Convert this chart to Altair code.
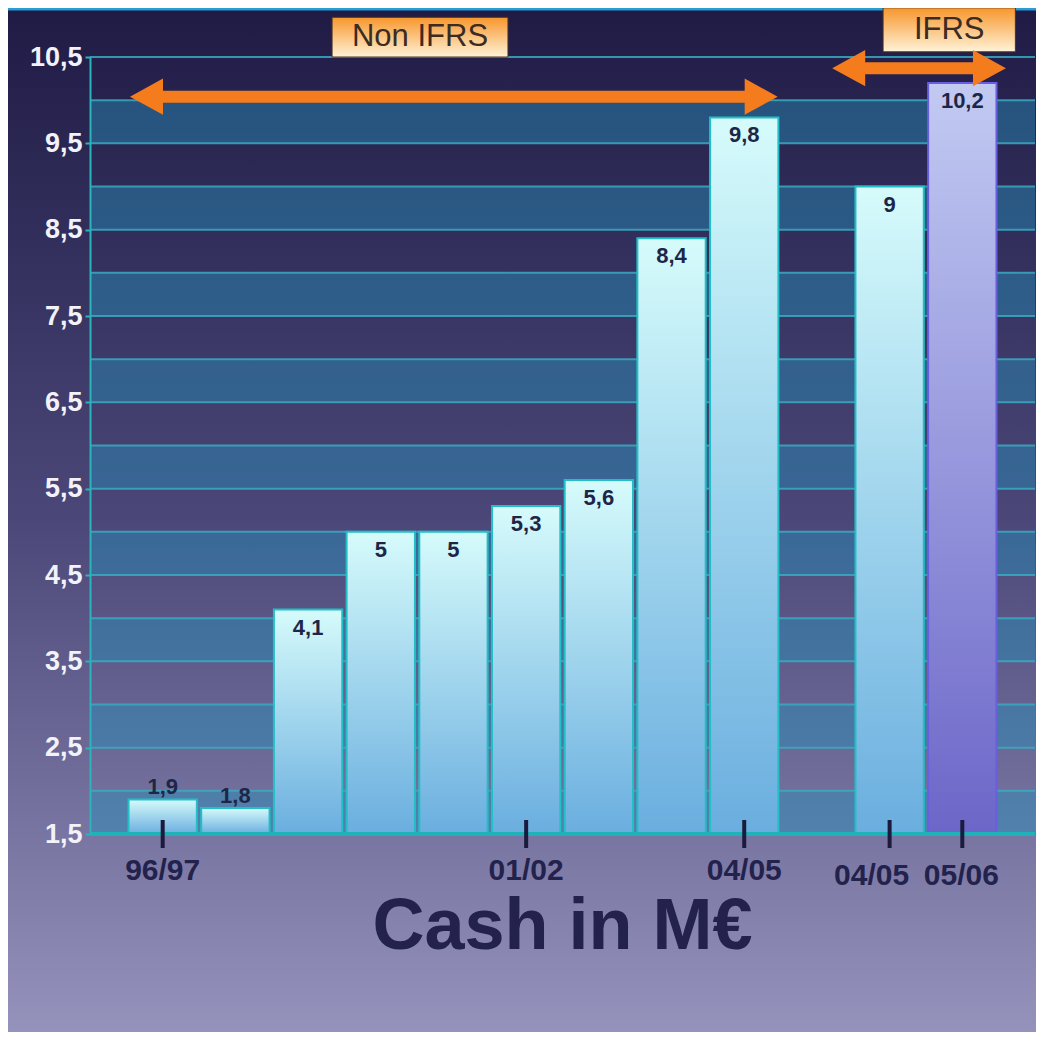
import altair as alt
import pandas as pd

# ---------------- data ----------------
periods = ["96/97", "97/98", "98/99", "99/00", "00/01", "01/02", "02/03", "03/04", "04/05", "04/05", "05/06"]
values = [1.9, 1.8, 4.1, 5.0, 5.0, 5.3, 5.6, 8.4, 9.8, 9.0, 10.2]
slots = [0, 1, 2, 3, 4, 5, 6, 7, 8, 10, 11]
standard = ["Non IFRS"] * 9 + ["IFRS"] * 2
tick_labels = ["96/97", "", "", "", "", "01/02", "", "", "04/05", "04/05", "05/06"]
shade = ["cyan"] * 10 + ["purple"]

y_ticks = [1.5, 2.5, 3.5, 4.5, 5.5, 6.5, 7.5, 8.5, 9.5, 10.5]
grid_vals = [1.5, 2.0, 2.5, 3.0, 3.5, 4.0, 4.5, 5.0, 5.5, 6.0, 6.5, 7.0, 7.5, 8.0, 8.5, 9.0, 9.5, 10.0, 10.5]
band_starts = [1.5, 2.5, 3.5, 4.5, 5.5, 6.5, 7.5, 8.5, 9.5]

# annotations (in data coordinates)
ann_names = ["Non IFRS", "IFRS"]
arrow_x_start = [-0.45, 9.21]
arrow_x_end = [8.46, 11.60]
arrow_y = [10.04, 10.37]
box_x_start = [2.33, 9.91]
box_x_end = [4.75, 11.73]
box_y_low = [10.5, 10.56]
box_y_high = [10.96, 11.07]

title_text = "Cash in M€"

# ---------------- layout ----------------
W, H = 945, 777
PL, PT, PR, PB = 82, 49, 1, 198
FONT = "Liberation Sans"
NAVY = "#22224c"
ORANGE = "#f47c1c"

df = pd.DataFrame({
    "period": periods, "value": values, "slot": slots,
    "standard": standard, "tick": tick_labels, "shade": shade,
})
bands = pd.DataFrame({"start": band_starts})
grid = pd.DataFrame({"v": grid_vals})
ann = pd.DataFrame({
    "name": ann_names, "xs": arrow_x_start, "xe": arrow_x_end, "y": arrow_y,
    "bx1": box_x_start, "bx2": box_x_end, "by1": box_y_low, "by2": box_y_high,
})
one = pd.DataFrame({"a": [0]})

xs = alt.Scale(domain=[-1, 12], nice=False, zero=False)
ys = alt.Scale(domain=[1.5, 10.5], nice=False, zero=False)

bg_grad = alt.Gradient(
    gradient="linear", x1=0, x2=0, y1=0, y2=1,
    stops=[alt.GradientStop(offset=0, color="#1f1b45"),
           alt.GradientStop(offset=0.5, color="#4b4778"),
           alt.GradientStop(offset=1, color="#9592bc")],
)
cyan_grad = alt.Gradient(
    gradient="linear", x1=0, x2=0, y1=0, y2=1,
    stops=[alt.GradientStop(offset=0, color="#d6fbfb"),
           alt.GradientStop(offset=1, color="#6aaedf")],
)
purple_grad = alt.Gradient(
    gradient="linear", x1=0, x2=0, y1=0, y2=1,
    stops=[alt.GradientStop(offset=0, color="#c2caf2"),
           alt.GradientStop(offset=1, color="#6c66c8")],
)
box_grad = alt.Gradient(
    gradient="linear", x1=0, x2=0, y1=0, y2=1,
    stops=[alt.GradientStop(offset=0, color="#f7962c"),
           alt.GradientStop(offset=1, color="#fff3d8")],
)

yaxis = alt.Axis(
    values=y_ticks, labelExpr="replace(format(datum.value, '.1f'), '.', ',')",
    domain=True, domainColor="#2ab4bc", domainWidth=2,
    ticks=True, tickColor="#2ab4bc", tickSize=5, tickWidth=2,
    grid=False, labelColor="#f2f2fa", labelFont=FONT, labelFontSize=27,
    labelFontWeight="bold", labelPadding=3, title=None, zindex=1,
)

background = alt.Chart(one).mark_rect(fill=bg_grad).encode(
    x=alt.value(-PL), x2=alt.value(W + PR), y=alt.value(-PT), y2=alt.value(H + PB)
)
top_line = alt.Chart(one).mark_rule(color="#2a9cd6", strokeWidth=3).encode(
    x=alt.value(-PL), x2=alt.value(W + PR), y=alt.value(-PT + 1)
)

band_layer = alt.Chart(bands).transform_calculate(end="datum.start + 0.5").mark_rect(
    fill="#2590bb", opacity=0.45
).encode(
    x=alt.value(0), x2=alt.value(W),
    y=alt.Y("start:Q", scale=ys, axis=yaxis), y2="end:Q",
)

grid_layer = alt.Chart(grid).mark_rule(color="#3aaac0", strokeWidth=2, opacity=0.85).encode(
    x=alt.value(0), x2=alt.value(W), y=alt.Y("v:Q", scale=ys, axis=yaxis)
)

bar_base = alt.Chart(df).transform_calculate(
    x1="datum.slot - 0.47", x2="datum.slot + 0.47",
    lab="replace(format(datum.value, '.1~f'), '.', ',')",
)

bars_cyan = bar_base.transform_filter("datum.shade == 'cyan'").mark_rect(
    fill=cyan_grad, stroke="#22bfc6", strokeWidth=2
).encode(
    x=alt.X("x1:Q", scale=xs, axis=None), x2="x2:Q",
    y=alt.Y("value:Q", scale=ys, axis=yaxis), y2=alt.datum(1.5),
)
bars_purple = bar_base.transform_filter("datum.shade == 'purple'").mark_rect(
    fill=purple_grad, stroke="#6a5ee0", strokeWidth=2
).encode(
    x=alt.X("x1:Q", scale=xs, axis=None), x2="x2:Q",
    y=alt.Y("value:Q", scale=ys, axis=yaxis), y2=alt.datum(1.5),
)

baseline = alt.Chart(one).mark_rule(color="#1fb2b8", strokeWidth=4).encode(
    x=alt.value(0), x2=alt.value(W), y=alt.datum(1.5, scale=ys, axis=yaxis)
)

lab_inside = bar_base.transform_filter("datum.value >= 2.5").mark_text(
    baseline="alphabetic", dy=25, fontSize=22, fontWeight="bold", font=FONT, color="#1e2647"
).encode(x=alt.X("slot:Q", scale=xs, axis=None), y=alt.Y("value:Q", scale=ys, axis=yaxis), text="lab:N")
lab_above = bar_base.transform_filter("datum.value < 2.5").mark_text(
    baseline="alphabetic", dy=-5, fontSize=22, fontWeight="bold", font=FONT, color="#1e2647"
).encode(x=alt.X("slot:Q", scale=xs, axis=None), y=alt.Y("value:Q", scale=ys, axis=yaxis), text="lab:N")

ticks = alt.Chart(df).transform_filter("datum.tick != ''").mark_rule(
    color="#1b1b3d", strokeWidth=4
).encode(x=alt.X("slot:Q", scale=xs, axis=None), y=alt.value(H - 14), y2=alt.value(H + 14))

xlab_non = alt.Chart(df).transform_filter("datum.tick != '' && datum.standard == 'Non IFRS'").mark_text(
    baseline="alphabetic", fontSize=30, fontWeight="bold", font=FONT, color=NAVY
).encode(x=alt.X("slot:Q", scale=xs, axis=None), y=alt.value(H + 46), text="tick:N")
xlab_ifrs_a = alt.Chart(df).transform_filter("datum.standard == 'IFRS' && datum.shade == 'cyan'").mark_text(
    baseline="alphabetic", fontSize=30, fontWeight="bold", font=FONT, color=NAVY, dx=-18
).encode(x=alt.X("slot:Q", scale=xs, axis=None), y=alt.value(H + 51), text="tick:N")
xlab_ifrs_b = alt.Chart(df).transform_filter("datum.standard == 'IFRS' && datum.shade == 'purple'").mark_text(
    baseline="alphabetic", fontSize=30, fontWeight="bold", font=FONT, color=NAVY, dx=-1
).encode(x=alt.X("slot:Q", scale=xs, axis=None), y=alt.value(H + 51), text="tick:N")

title_layer = alt.Chart(one).transform_calculate(t=f"'{title_text}'").mark_text(
    baseline="alphabetic", align="center", fontSize=72, fontWeight="bold", font=FONT, color=NAVY
).encode(x=alt.value(W / 2), y=alt.value(H + 115), text="t:N")

# arrows
shaft = alt.Chart(ann).transform_calculate(
    s1="datum.xs + 0.4", s2="datum.xe - 0.4"
).mark_rule(color=ORANGE, strokeWidth=12).encode(
    x=alt.X("s1:Q", scale=xs, axis=None), x2="s2:Q", y=alt.Y("y:Q", scale=ys, axis=yaxis)
)
head_l = alt.Chart(ann).mark_point(
    shape="M0,0 L1,-0.55 L1,0.55 Z", size=4356, filled=True, fill=ORANGE, opacity=1, strokeWidth=0
).encode(x=alt.X("xs:Q", scale=xs, axis=None), y=alt.Y("y:Q", scale=ys, axis=yaxis))
head_r = alt.Chart(ann).mark_point(
    shape="M0,0 L-1,-0.55 L-1,0.55 Z", size=4356, filled=True, fill=ORANGE, opacity=1, strokeWidth=0
).encode(x=alt.X("xe:Q", scale=xs, axis=None), y=alt.Y("y:Q", scale=ys, axis=yaxis))

boxes = alt.Chart(ann).mark_rect(fill=box_grad, stroke="#4a3220", strokeWidth=1).encode(
    x=alt.X("bx1:Q", scale=xs, axis=None), x2="bx2:Q", y=alt.Y("by1:Q", scale=ys, axis=yaxis), y2="by2:Q"
)
box_text = alt.Chart(ann).transform_calculate(
    cx="(datum.bx1 + datum.bx2) / 2", cy="(datum.by1 + datum.by2) / 2"
).mark_text(baseline="middle", align="center", fontSize=31, font=FONT, color="#3b2b22").encode(
    x=alt.X("cx:Q", scale=xs, axis=None), y=alt.Y("cy:Q", scale=ys, axis=yaxis), text="name:N"
)

chart = alt.layer(
    background, top_line, band_layer, grid_layer,
    bars_cyan, bars_purple, baseline, ticks, lab_inside, lab_above,
    xlab_non, xlab_ifrs_a, xlab_ifrs_b, title_layer, boxes, box_text, shaft, head_l, head_r,
).properties(
    width=W, height=H,
    autosize=alt.AutoSizeParams(type="none"),
    padding={"left": PL, "top": PT, "right": PR, "bottom": PB},
).configure_view(strokeWidth=0)

chart.save("out.html", embed_options={"renderer": "svg", "actions": False})
